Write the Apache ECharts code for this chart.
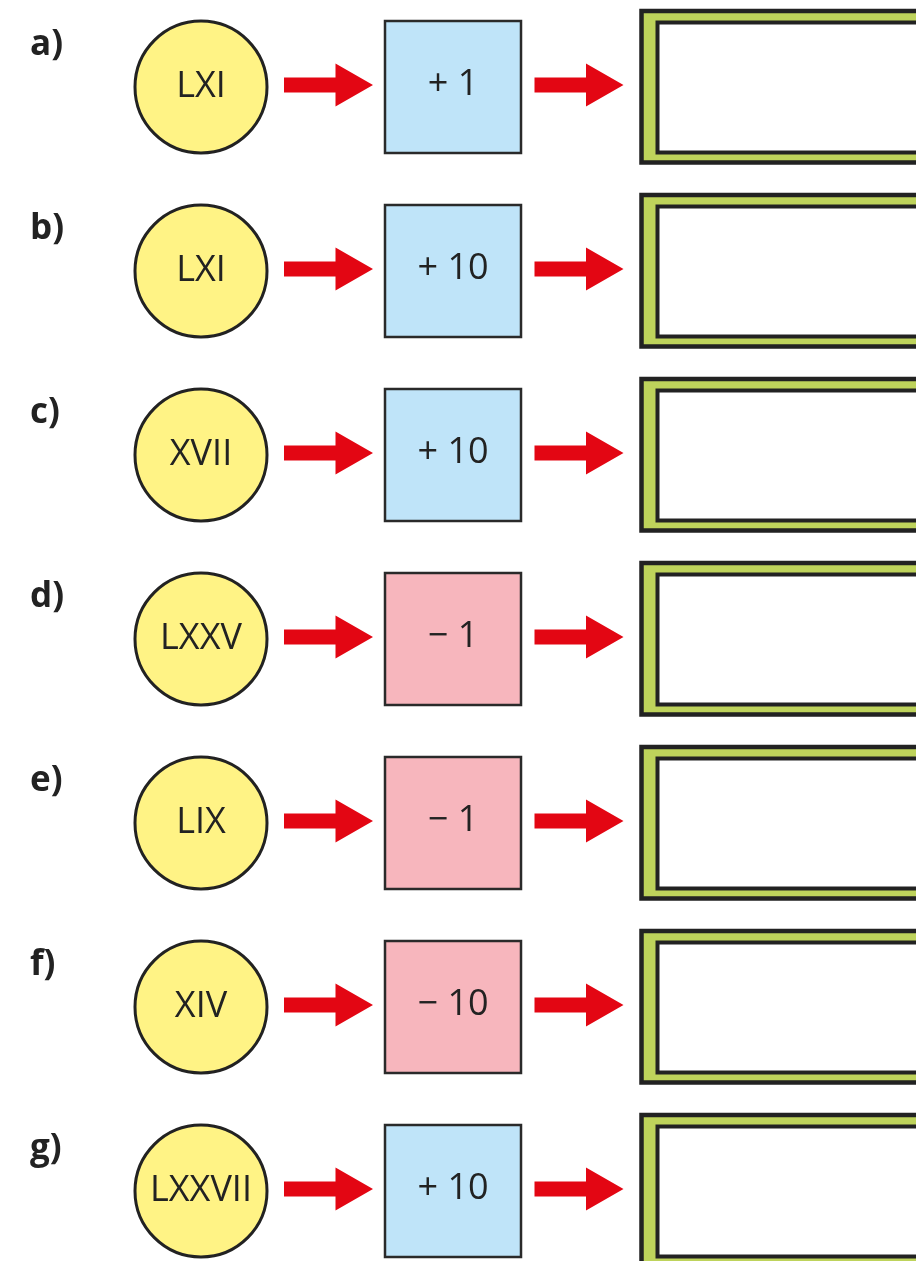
<!DOCTYPE html>
<html>
<head>
<meta charset="utf-8">
<script src="https://cdn.jsdelivr.net/npm/echarts@6/dist/echarts.min.js"></script>
<style>
html,body{margin:0;padding:0;background:#fff;}
#chart{width:916px;height:1261px;}
</style>
</head>
<body>
<div id="chart"></div>
<script>
// ---- data ----
const rowLabels = ['a)', 'b)', 'c)', 'd)', 'e)', 'f)', 'g)'];
const startNumerals = ['LXI', 'LXI', 'XVII', 'LXXV', 'LIX', 'XIV', 'LXXVII'];
const operations = ['+ 1', '+ 10', '+ 10', '\u2212 1', '\u2212 1', '\u2212 10', '+ 10'];

// ---- layout / style (not data) ----
const L = {
  labelX: 30, labelDy: -42,
  circleX: 201, circleR: 66,
  arrow1X: 284, arrow2X: 534.5, shaftLen: 51.5, headLen: 37.5, shaftH: 7.5, headH: 21.5, arrowDy: -2,
  squareX: 385, squareW: 136, squareH: 132,
  boxX: 641.5, boxTop: -76, boxBottom: 75.5,
  innerX: 657.5, innerTop: -64.5, innerBottom: 65.5
};
const C = {
  yellow: '#fff385', blue: '#bfe4f9', pink: '#f7b6bd', red: '#e30613',
  green: '#bed35b', ink: '#222222'
};
const FONT = '"Open Sans", "Noto Sans", sans-serif';
// row axis range: row pitch 184px, first row centre 87px in a 1261px frame
const rowPitch = 184, firstRowY = 87, frameH = 1261;
const yMin = -firstRowY / rowPitch;
const yMax = yMin + frameH / rowPitch;

const chart = echarts.init(document.getElementById('chart'), null, {renderer: 'canvas'});

function arrowPoints(x0, cy) {
  const xs = x0 + L.shaftLen, xt = xs + L.headLen;
  return [[x0, cy - L.shaftH], [xs, cy - L.shaftH], [xs, cy - L.headH], [xt, cy],
          [xs, cy + L.headH], [xs, cy + L.shaftH], [x0, cy + L.shaftH]];
}

chart.setOption({
  animation: false,
  grid: {left: 0, right: 0, top: 0, bottom: 0, containLabel: false},
  xAxis: {type: 'value', min: 0, max: 916, show: false},
  yAxis: {type: 'value', min: yMin, max: yMax, inverse: true, show: false},
  series: [{
    type: 'custom',
    clip: false,
    data: rowLabels.map((l, i) => [0, i]),
    renderItem: function (params, api) {
      const i = api.value(1);
      const cy = api.coord([0, i])[1];
      const px = v => api.coord([v, i])[0];
      const op = operations[i];
      const isMinus = op.charAt(0) !== '+';
      const ay = cy + L.arrowDy;
      return {
        type: 'group',
        children: [
          {type: 'text', style: {text: rowLabels[i], x: px(L.labelX), y: cy + L.labelDy,
            font: 'bold 35px ' + FONT, fill: C.ink, align: 'left', verticalAlign: 'middle'}},
          {type: 'circle', shape: {cx: px(L.circleX), cy: cy, r: L.circleR},
            style: {fill: C.yellow, stroke: C.ink, lineWidth: 3}},
          {type: 'text', style: {text: startNumerals[i], x: px(L.circleX), y: cy,
            font: 'normal 36px ' + FONT, fill: C.ink, align: 'center', verticalAlign: 'middle'}},
          {type: 'polygon', shape: {points: arrowPoints(px(L.arrow1X), ay)}, style: {fill: C.red}},
          {type: 'rect', shape: {x: px(L.squareX), y: cy - L.squareH / 2, width: L.squareW, height: L.squareH},
            style: {fill: isMinus ? C.pink : C.blue, stroke: '#2a2a2a', lineWidth: 2.5}},
          {type: 'text', style: {text: op, x: px(L.squareX + L.squareW / 2), y: cy - 2,
            font: 'normal 36px ' + FONT, fill: C.ink, align: 'center', verticalAlign: 'middle'}},
          {type: 'polygon', shape: {points: arrowPoints(px(L.arrow2X), ay)}, style: {fill: C.red}},
          {type: 'rect', shape: {x: px(L.boxX), y: cy + L.boxTop, width: 320, height: L.boxBottom - L.boxTop},
            style: {fill: C.green, stroke: C.ink, lineWidth: 4.5}},
          {type: 'rect', shape: {x: px(L.innerX), y: cy + L.innerTop, width: 320, height: L.innerBottom - L.innerTop},
            style: {fill: '#ffffff', stroke: C.ink, lineWidth: 4}}
        ]
      };
    }
  }]
});
</script>
</body>
</html>
